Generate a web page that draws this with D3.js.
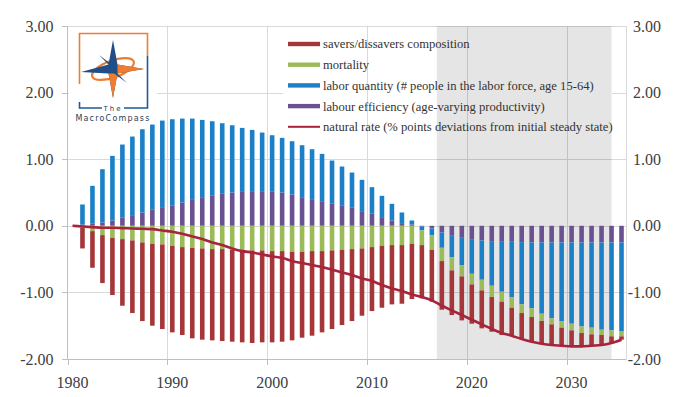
<!DOCTYPE html>
<html><head><meta charset="utf-8">
<script src="https://cdn.jsdelivr.net/npm/d3@7"></script>
<style>body{margin:0;background:#fff}svg{display:block}</style>
</head><body><div id="chart"></div>
<script>
const years=[1980,1981,1982,1983,1984,1985,1986,1987,1988,1989,1990,1991,1992,1993,1994,1995,1996,1997,1998,1999,
2000,2001,2002,2003,2004,2005,2006,2007,2008,2009,2010,2011,2012,2013,2014,2015,2016,2017,2018,2019,
2020,2021,2022,2023,2024,2025,2026,2027,2028,2029,2030,2031,2032,2033,2034,2035];

// savers/dissavers composition
const savers=[0,-0.31,-0.55,-0.72,-0.86,-1.00,-1.09,-1.18,-1.23,-1.27,-1.30,-1.32,-1.36,-1.37,-1.37,-1.38,-1.38,-1.38,-1.39,-1.38,
-1.37,-1.36,-1.33,-1.29,-1.27,-1.22,-1.18,-1.13,-1.08,-1.01,-0.96,-0.93,-0.89,-0.88,-0.83,-0.80,-0.78,-0.73,-0.67,-0.66,
-0.59,-0.57,-0.52,-0.50,-0.41,-0.38,-0.37,-0.34,-0.30,-0.26,-0.23,-0.19,-0.16,-0.14,-0.10,-0.05];
// mortality
const mortality=[0,-0.03,-0.08,-0.14,-0.18,-0.20,-0.22,-0.25,-0.27,-0.28,-0.30,-0.32,-0.33,-0.34,-0.35,-0.35,-0.36,-0.37,-0.37,-0.37,
-0.38,-0.38,-0.39,-0.39,-0.38,-0.38,-0.37,-0.36,-0.35,-0.34,-0.32,-0.30,-0.29,-0.29,-0.27,-0.22,-0.22,-0.20,-0.20,-0.17,
-0.16,-0.16,-0.17,-0.15,-0.155,-0.13,-0.13,-0.11,-0.09,-0.10,-0.10,-0.10,-0.10,-0.08,-0.09,-0.08];
// labor quantity
const laborQty=[0,0.30,0.57,0.80,0.97,1.10,1.18,1.25,1.28,1.30,1.30,1.26,1.21,1.16,1.12,1.06,1.01,0.95,0.92,0.88,
0.85,0.82,0.80,0.78,0.75,0.71,0.65,0.59,0.53,0.47,0.40,0.32,0.25,0.16,0.06,-0.06,-0.10,-0.23,-0.33,-0.41,
-0.52,-0.59,-0.67,-0.75,-0.835,-0.935,-0.99,-1.07,-1.14,-1.18,-1.22,-1.26,-1.28,-1.31,-1.32,-1.33];
// labour efficiency
const laborEff=[0,0.02,0.03,0.05,0.08,0.12,0.16,0.20,0.24,0.28,0.30,0.35,0.40,0.43,0.45,0.48,0.50,0.52,0.52,0.52,
0.51,0.50,0.47,0.43,0.40,0.37,0.33,0.30,0.27,0.22,0.18,0.13,0.08,0.04,0.02,-0.01,-0.04,-0.10,-0.14,-0.18,
-0.20,-0.22,-0.23,-0.24,-0.24,-0.245,-0.25,-0.25,-0.25,-0.25,-0.25,-0.25,-0.25,-0.25,-0.25,-0.25];
// natural rate
const naturalRate=[0,-0.01,-0.02,-0.03,-0.03,-0.035,-0.04,-0.045,-0.05,-0.07,-0.09,-0.12,-0.16,-0.20,-0.25,-0.29,-0.34,-0.38,-0.40,-0.43,
-0.46,-0.48,-0.53,-0.56,-0.59,-0.62,-0.66,-0.70,-0.74,-0.79,-0.83,-0.89,-0.94,-0.98,-1.03,-1.07,-1.12,-1.20,-1.27,-1.34,
-1.41,-1.48,-1.55,-1.61,-1.65,-1.70,-1.74,-1.77,-1.79,-1.80,-1.81,-1.81,-1.80,-1.79,-1.76,-1.71];

const yTicks=[-2,-1,0,1,2,3];
const xLabels=[1980,1990,2000,2010,2020,2030];
const shadeYears=[2016.5,2034];

const colors={savers:'#a5373a',mortality:'#9bbb59',laborQty:'#1b80c8',laborEff:'#6a5192',line:'#a8243c'};
const legendItems=[
  {key:'savers',label:'savers/dissavers composition',type:'bar'},
  {key:'mortality',label:'mortality',type:'bar'},
  {key:'laborQty',label:'labor quantity (# people in the labor force, age 15-64)',type:'bar'},
  {key:'laborEff',label:'labour efficiency (age-varying productivity)',type:'bar'},
  {key:'line',label:'natural rate (% points deviations from initial steady state)',type:'line'}
];

const W=680,H=397;
const svg=d3.select('#chart').append('svg').attr('width',W).attr('height',H);
const x=d3.scaleBand().domain(years).range([67.5,626.5]);
const bw=x.bandwidth();
const y=d3.scaleLinear().domain([-2,3]).range([359,26]);
const xLin=d3.scaleLinear().domain([1979.5,2035.5]).range([67.5,626.5]);
const serif='"Liberation Serif","Times New Roman",serif';

// horizontal gridlines
svg.append('g').selectAll('line').data(yTicks.filter(d=>d>-2)).join('line')
  .attr('x1',67.5).attr('x2',626.5).attr('y1',d=>Math.round(y(d))+0.5).attr('y2',d=>Math.round(y(d))+0.5)
  .attr('stroke','#d9d9d9');

// legend background hides gridlines
svg.append('rect').attr('x',283).attr('y',34).attr('width',329).attr('height',103).attr('fill','#fff');

// vertical gridlines
svg.append('g').selectAll('line').data(xLabels.slice(1)).join('line')
  .attr('x1',d=>Math.round(x(d))+0.5).attr('x2',d=>Math.round(x(d))+0.5).attr('y1',26).attr('y2',359)
  .attr('stroke','#d9d9d9');
svg.append('line').attr('x1',626.5).attr('x2',626.5).attr('y1',26).attr('y2',359).attr('stroke','#d9d9d9');

// shaded projection region
svg.append('rect').attr('x',xLin(shadeYears[0])).attr('y',26)
  .attr('width',xLin(shadeYears[1])-xLin(shadeYears[0])).attr('height',333)
  .attr('fill','#000').attr('opacity',0.1);

// stacked bars
const table=years.map((yr,i)=>({year:yr,laborEff:laborEff[i],laborQty:laborQty[i],mortality:mortality[i],savers:savers[i]}));
const stack=d3.stack().keys(['laborEff','laborQty','mortality','savers']).offset(d3.stackOffsetDiverging);
const series=stack(table);
const barW=4.6;
svg.append('g').selectAll('g').data(series).join('g').attr('fill',s=>colors[s.key])
  .selectAll('rect').data(s=>s).join('rect')
  .attr('x',d=>x(d.data.year)+(bw-barW)/2).attr('width',barW)
  .attr('y',d=>y(Math.max(d[0],d[1]))).attr('height',d=>Math.abs(y(d[0])-y(d[1])));

// natural rate line
const line=d3.line().x((d,i)=>x(years[i])+bw/2).y(d=>y(d)).curve(d3.curveMonotoneX);
svg.append('path').attr('d',line(naturalRate)).attr('fill','none').attr('stroke',colors.line).attr('stroke-width',2.6);

// axes
svg.append('line').attr('x1',67.5).attr('x2',67.5).attr('y1',26).attr('y2',359.5).attr('stroke','#bfbfbf');
svg.append('line').attr('x1',67.5).attr('x2',626.5).attr('y1',359.5).attr('y2',359.5).attr('stroke','#bfbfbf');
svg.append('g').selectAll('line').data(yTicks).join('line')
  .attr('x1',62).attr('x2',67.5).attr('y1',d=>Math.round(y(d))+0.5).attr('y2',d=>Math.round(y(d))+0.5).attr('stroke','#bfbfbf');
svg.append('g').selectAll('line').data(xLabels).join('line')
  .attr('x1',d=>Math.round(x(d))+0.5).attr('x2',d=>Math.round(x(d))+0.5).attr('y1',359.5).attr('y2',365).attr('stroke','#bfbfbf');

const lbl={'font-family':serif,'font-size':'16px','fill':'#404040'};
function styl(sel){Object.entries(lbl).forEach(([k,v])=>sel.attr(k,v));return sel;}
styl(svg.append('g').selectAll('text').data(yTicks).join('text'))
  .attr('x',53.5).attr('y',d=>y(d)).attr('dy','0.35em').attr('text-anchor','end').text(d=>d.toFixed(2));
styl(svg.append('g').selectAll('text').data(yTicks).join('text'))
  .attr('x',661).attr('y',d=>y(d)).attr('dy','0.35em').attr('text-anchor','end').text(d=>d.toFixed(2));
styl(svg.append('g').selectAll('text').data(xLabels).join('text'))
  .attr('x',d=>x(d)+bw/2).attr('y',388).attr('text-anchor','middle').text(d=>d);

// legend
const lg=svg.append('g').selectAll('g').data(legendItems).join('g')
  .attr('transform',(d,i)=>`translate(288,${44+i*20.7})`);
lg.append('rect').attr('x',0).attr('width',32).attr('y',d=>d.type==='line'?-1:-2.2)
  .attr('height',d=>d.type==='line'?2:4.4).attr('fill',d=>colors[d.key]);
lg.append('text').attr('x',35).attr('dy','0.35em').attr('font-family',serif).attr('font-size','12.6px')
  .attr('fill','#333').text(d=>d.label);

// logo
const logo=svg.append('g');
logo.append('rect').attr('x',69).attr('y',27).attr('width',88).attr('height',97).attr('fill','#fff');
logo.append('path').attr('d','M79.5,84 V33.5 H147.5 V56').attr('fill','none').attr('stroke','#ee7d31').attr('stroke-width',1.6);
logo.append('path').attr('d','M147.5,56 V108 H124 M79.5,102 V108 H102').attr('fill','none').attr('stroke','#1f5a96').attr('stroke-width',1.6);
const g=logo.append('g').attr('transform','translate(113,69)');
g.append('ellipse').attr('rx',22).attr('ry',8.5).attr('transform','rotate(-20)').attr('fill','none').attr('stroke','#ee7d31').attr('stroke-width',2.2);
g.append('path').attr('d','M0,-29 L4.5,-4.5 L31,0 L4.5,4.5 L0,29 L-4.5,4.5 L-32,3 L-4.5,-4.5 Z').attr('fill','#1f4f86');
g.append('path').attr('d','M4.5,-4.5 L31,0 L4.5,4.5 Z M4.5,4.5 L0,29 L-4.5,4.5 Z').attr('fill','#ee7d31');
g.append('path').attr('d','M-3,-3 L-14,-14 L2,-2 Z M3,3 L14,14 L-2,2 Z').attr('fill','#1f4f86');
logo.append('text').attr('x',113).attr('y',111).attr('text-anchor','middle').attr('font-family','"DejaVu Sans",sans-serif')
  .attr('font-size','7px').attr('letter-spacing','2px').attr('fill','#2e3e55').text('The');
logo.append('text').attr('x',113).attr('y',121).attr('text-anchor','middle').attr('font-family','"DejaVu Sans",sans-serif')
  .attr('font-size','8px').attr('letter-spacing','1.2px').attr('fill','#2e3e55').text('MacroCompass');
</script></body></html>
